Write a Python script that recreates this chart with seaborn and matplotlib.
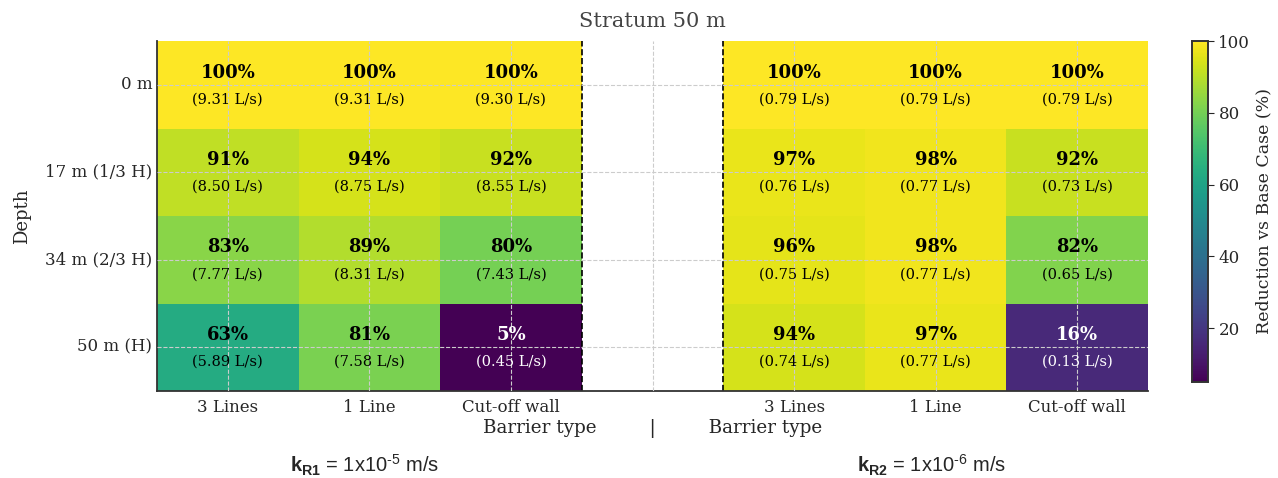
import numpy as np
import matplotlib
matplotlib.use("Agg")
import matplotlib.pyplot as plt
import seaborn as sns

# ---- data ----
DEPTHS = ['0 m', '17 m (1/3 H)', '34 m (2/3 H)', '50 m (H)']
BARRIERS = ['3 Lines', '1 Line', 'Cut-off wall']

K1_PCT = [[100, 100, 100],
          [91, 94, 92],
          [83, 89, 80],
          [63, 81, 5]]
K1_FLOW = [[9.31, 9.31, 9.30],
           [8.50, 8.75, 8.55],
           [7.77, 8.31, 7.43],
           [5.89, 7.58, 0.45]]

K2_PCT = [[100, 100, 100],
          [97, 98, 92],
          [96, 98, 82],
          [94, 97, 16]]
K2_FLOW = [[0.79, 0.79, 0.79],
           [0.76, 0.77, 0.73],
           [0.75, 0.77, 0.65],
           [0.74, 0.77, 0.13]]

TITLE = 'Stratum 50 m'
K1_LABEL = r'$\mathbf{k_{R1}}$ = 1x10$^{\text{-5}}$ m/s'
K2_LABEL = r'$\mathbf{k_{R2}}$ = 1x10$^{\text{-6}}$ m/s'

# ---- build matrix with an empty separator column ----
gap = np.full((len(DEPTHS), 1), np.nan)
pct = np.hstack([np.array(K1_PCT, float), gap, np.array(K2_PCT, float)])
flow = np.hstack([np.array(K1_FLOW, float), gap, np.array(K2_FLOW, float)])
xlabels = BARRIERS + [''] + BARRIERS

sns.set_style('white')
plt.rcParams['font.family'] = ['DejaVu Serif']
plt.rcParams['mathtext.fontset'] = 'custom'
plt.rcParams['mathtext.rm'] = 'Liberation Sans'
plt.rcParams['mathtext.bf'] = 'Liberation Sans:bold'

fig = plt.figure(figsize=(12.78, 4.78), dpi=100)
ax = fig.add_axes([157 / 1278, 87 / 478, 991 / 1278, 350 / 478])
cax = fig.add_axes([1192 / 1278, 96 / 478, 16 / 1278, 341 / 478])

sns.heatmap(pct, ax=ax, cbar_ax=cax, cmap='viridis',
            xticklabels=xlabels, yticklabels=DEPTHS,
            cbar_kws={'label': 'Reduction vs Base Case (%)', 'ticks': [20, 40, 60, 80, 100]})

norm_min, norm_max = np.nanmin(pct), np.nanmax(pct)
for i in range(pct.shape[0]):
    for j in range(pct.shape[1]):
        if np.isnan(pct[i, j]):
            continue
        frac = (pct[i, j] - norm_min) / (norm_max - norm_min)
        color = 'white' if frac < 0.3 else 'black'
        ax.text(j + 0.5, i + 0.36, f'{pct[i, j]:.0f}%', ha='center', va='center',
                fontsize=13, fontweight='bold', color=color)
        ax.text(j + 0.5, i + 0.67, f'({flow[i, j]:.2f} L/s)', ha='center', va='center',
                fontsize=10.5, color=color)

# separator lines around the empty column
ax.axvline(3, color='black', linestyle='--', linewidth=1.2)
ax.axvline(4, color='black', linestyle='--', linewidth=1.2)

ax.set_axisbelow(False)
ax.grid(True, linestyle='--', color='#cccccc', linewidth=0.8)

for s in ['left', 'bottom']:
    ax.spines[s].set_visible(True)
    ax.spines[s].set_color('#333333')
    ax.spines[s].set_linewidth(1.3)
ax.spines['top'].set_visible(False)
ax.spines['right'].set_visible(False)

ax.tick_params(axis='both', direction='in', length=4, color='#333333', labelsize=12)
ax.tick_params(axis='x', pad=6)
plt.setp(ax.get_yticklabels(), rotation=0)
plt.setp(ax.get_xticklabels(), rotation=0)

ax.set_title(TITLE, fontsize=15, color='#444444', pad=10)
ax.set_ylabel('Depth', fontsize=13, labelpad=10)
ax.set_xlabel('Barrier type         |         Barrier type', fontsize=13.2, labelpad=2)

cax.tick_params(labelsize=12, length=4)
cax.yaxis.label.set_size(12.5)
for s in cax.spines.values():
    s.set_visible(True)
    s.set_color('#333333')
    s.set_linewidth(1.2)

fig.text(365 / 1278, 1 - 465 / 478, K1_LABEL, ha='center', va='center',
         fontsize=14.5, family='Liberation Sans')
fig.text(932 / 1278, 1 - 465 / 478, K2_LABEL, ha='center', va='center',
         fontsize=14.5, family='Liberation Sans')

fig.savefig('out.png', dpi=100)
